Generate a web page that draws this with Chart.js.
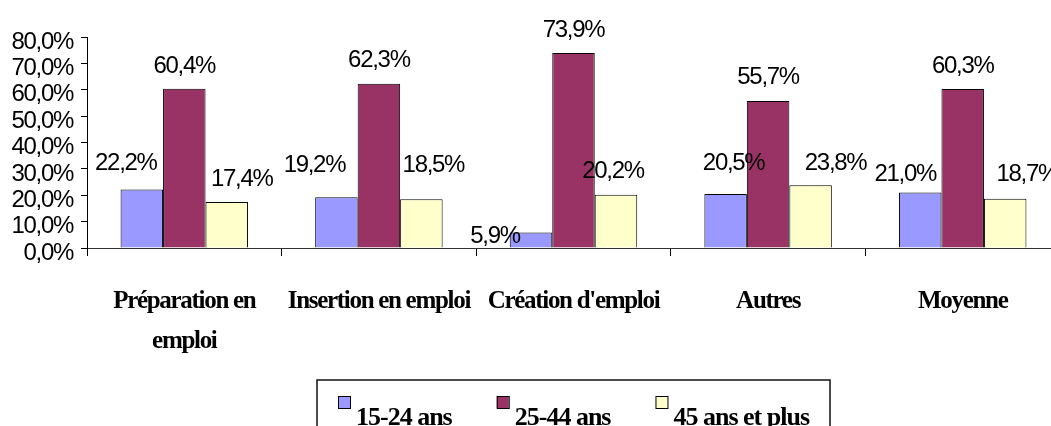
<!DOCTYPE html>
<html>
<head>
<meta charset="utf-8">
<script src="https://cdn.jsdelivr.net/npm/chart.js@4.4.1/dist/chart.umd.min.js"></script>
<style>
html, body { margin: 0; padding: 0; overflow: hidden; background: #fff; }
canvas { display: block; }
</style>
</head>
<body>
<canvas id="chart" width="1062" height="426"></canvas>
<script>
// categories and series
const categories = [['Préparation en', 'emploi'], 'Insertion en emploi', "Création d'emploi", 'Autres', 'Moyenne'];
const seriesNames = ['15-24 ans', '25-44 ans', '45 ans et plus'];
const young = [22.2, 19.2, 5.9, 20.5, 21.0];
const middle = [60.4, 62.3, 73.9, 55.7, 60.3];
const senior = [17.4, 18.5, 20.2, 23.8, 18.7];

const pctText = v => v.toFixed(1).replace('.', ',') + '%';

// excel squeezes its text, do the same
const tightText = {
    id: 'tightText',
    beforeDraw(chart) {
        chart.ctx.letterSpacing = '-1.3px';
    }
};

const valueLabels = {
    id: 'valueLabels',
    afterDatasetsDraw(chart, args, opts) {
        const ctx = chart.ctx;
        ctx.save();
        ctx.font = '24px "Liberation Sans", Arial, sans-serif';
        ctx.letterSpacing = '-1.3px';
        ctx.fillStyle = '#000';
        ctx.textAlign = 'center';
        ctx.textBaseline = 'middle';
        chart.data.datasets.forEach((ds, i) => {
            chart.getDatasetMeta(i).data.forEach((bar, j) => {
                const [dx, dy] = opts.nudge[i][j];
                ctx.fillText(pctText(ds.data[j]), bar.x + dx, bar.y - dy);
            });
        });
        ctx.restore();
    }
};

// legend in a frame, like the original
const boxedLegend = {
    id: 'boxedLegend',
    afterDraw(chart) {
        const ctx = chart.ctx;
        const area = chart.chartArea;
        ctx.save();
        ctx.font = 'bold 26px "Liberation Serif", "Times New Roman", serif';
        ctx.letterSpacing = '-1px';
        const marker = 12, gap = 6, spacing = 45;
        const items = chart.data.datasets.map(ds => ({ ds, w: ctx.measureText(ds.label).width }));
        const total = items.reduce((s, it) => s + marker + gap + it.w, 0) + spacing * (items.length - 1);
        let x = Math.round((area.left + area.right) / 2 - total / 2);
        const top = chart.scales.x.bottom + 22;

        ctx.strokeStyle = '#111';
        ctx.lineWidth = 1.5;
        ctx.strokeRect(x - 21, top, total + 42, 80);

        items.forEach(it => {
            ctx.fillStyle = it.ds.backgroundColor;
            ctx.fillRect(x, top + 16, marker, marker);
            ctx.strokeStyle = '#000';
            ctx.lineWidth = 1;
            ctx.strokeRect(x + 0.5, top + 16.5, marker, marker);
            ctx.fillStyle = '#000';
            ctx.textBaseline = 'alphabetic';
            ctx.fillText(it.ds.label, x + marker + gap, top + 45);
            x += marker + gap + it.w + spacing;
        });
        ctx.restore();
    }
};

new Chart(document.getElementById('chart'), {
    type: 'bar',
    data: {
        labels: categories,
        datasets: [
            { label: seriesNames[0], data: young, backgroundColor: '#9999FF', borderColor: '#000', borderWidth: 1 },
            { label: seriesNames[1], data: middle, backgroundColor: '#993366', borderColor: '#000', borderWidth: 1 },
            { label: seriesNames[2], data: senior, backgroundColor: '#FFFFCC', borderColor: '#000', borderWidth: 1 }
        ]
    },
    options: {
        responsive: false,
        animation: false,
        devicePixelRatio: 1,
        layout: { padding: { top: 37, right: 2, bottom: 68, left: 0 } },
        datasets: { bar: { categoryPercentage: 0.655, barPercentage: 1 } },
        plugins: {
            legend: { display: false },
            tooltip: { enabled: false },
            valueLabels: {
                nudge: [
                    [[-16, 26], [-22, 32], [-36, -4], [8, 31], [-15, 18]],
                    [[0, 22], [0, 23], [0, 23], [0, 24], [0, 23]],
                    [[15, 23], [12, 34], [-3, 23], [25, 22], [22, 24]]
                ]
            }
        },
        scales: {
            x: {
                grid: { drawOnChartArea: false, tickLength: 8, color: '#000', offset: true },
                border: { color: '#333', width: 1 },
                ticks: {
                    color: '#000',
                    font: { family: '"Liberation Serif", "Times New Roman", serif', size: 25, weight: 'bold', lineHeight: 1.6 },
                    padding: 26,
                    maxRotation: 0,
                    minRotation: 0,
                    autoSkip: false
                },
                afterFit: s => { s.height = 110; }
            },
            y: {
                min: 0,
                max: 80,
                ticks: {
                    stepSize: 10,
                    autoSkip: false,
                    callback: v => pctText(v),
                    color: '#000',
                    font: { family: '"Liberation Sans", Arial, sans-serif', size: 24 },
                    padding: 8,
                    labelOffset: 5
                },
                grid: { drawOnChartArea: false, tickLength: 6, color: '#000' },
                border: { color: '#000', width: 1 },
                afterFit: s => { s.width = 87; }
            }
        }
    },
    plugins: [tightText, valueLabels, boxedLegend]
});
</script>
</body>
</html>
